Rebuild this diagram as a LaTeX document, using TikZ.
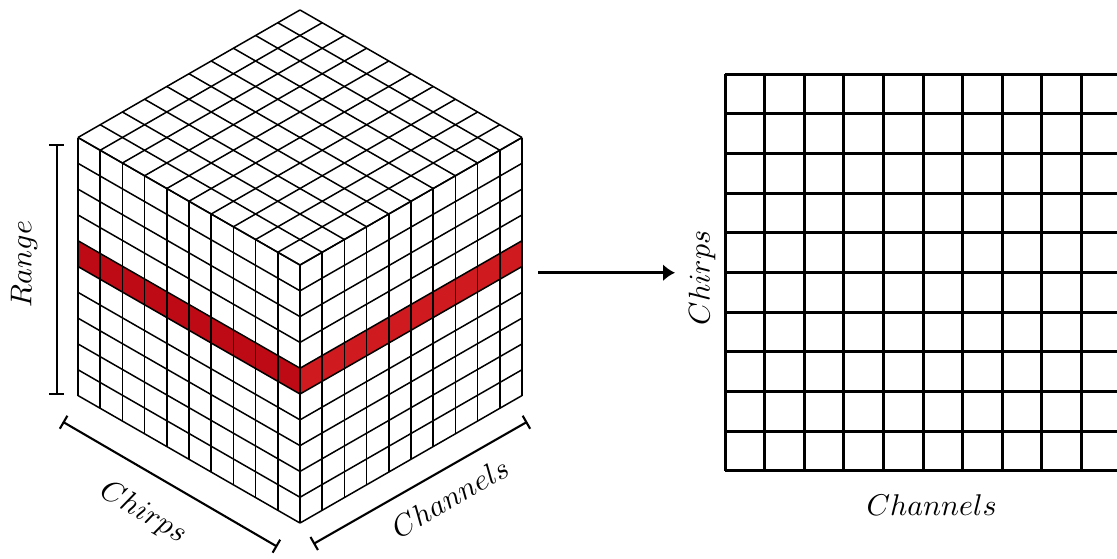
\documentclass[tikz,border=0pt]{standalone}
\usepackage{tikz}
\usetikzlibrary{arrows.meta}
\definecolor{redleft}{HTML}{BE0A14}
\definecolor{redright}{HTML}{CF1A1F}

\begin{document}
\begin{tikzpicture}[x=0.3333pt,y=-0.3333pt,>=Latex,
  cubeline/.style={line width=0.5pt},
  gridline/.style={line width=1pt},
  bracket/.style={line width=0.7pt,{Bar[width=5pt]}-{Bar[width=5pt]}},
  axislabel/.style={inner sep=0pt}]
\fill[white] (0,0) rectangle (1117,558);
\useasboundingbox (0,0) rectangle (1117,558);
\begin{scope}[shift={(300,265)},x={(-7.4pt,4.25pt)},y={(7.4pt,4.25pt)},z={(0pt,-8.6pt)}]
\fill[redleft] (0,0,4)--(10,0,4)--(10,0,5)--(0,0,5)--cycle;
\fill[redright] (0,0,4)--(0,10,4)--(0,10,5)--(0,0,5)--cycle;
\foreach \i in {0,...,10}{
  \draw[cubeline] (\i,0,0)--(\i,10,0);
  \draw[cubeline] (0,\i,0)--(10,\i,0);
  \draw[cubeline] (\i,0,0)--(\i,0,10);
  \draw[cubeline] (0,0,\i)--(10,0,\i);
  \draw[cubeline] (0,\i,0)--(0,\i,10);
  \draw[cubeline] (0,0,\i)--(0,10,\i);
}
\end{scope}
\coordinate (rangetop) at (56.7,144.3);
\coordinate (rangebot) at (56.7,395);
\coordinate (chirpsstart) at (62.7,421.7);
\coordinate (chirpsend) at (277.3,546.7);
\coordinate (chanstart) at (313.3,544);
\coordinate (chanend) at (527.3,421.7);
\draw[bracket] (rangetop)--(rangebot);
\draw[bracket] (chirpsstart)--(chirpsend);
\draw[bracket] (chanstart)--(chanend);
\node[axislabel,rotate=90] (rangelabel) at (24,264) {$Range$};
\node[axislabel,rotate=-30] (chirpslabel) at (143,513) {$Chirps$};
\node[axislabel,rotate=30] (channelslabel) at (450,497.5) {$Channels$};
\coordinate (arrowstart) at (538,272.7);
\coordinate (arrowend) at (675,272.7);
\draw[-{Latex[length=4pt,width=5.7pt]},line width=1pt] (arrowstart)--(arrowend);
\foreach \c in {0,...,10}
  \draw[gridline] ({725+39.6*\c},74.3)--({725+39.6*\c},470.7);
\foreach \r in {0,...,10}
  \draw[gridline] (725,{74.3+39.64*\r})--(1121,{74.3+39.64*\r});
\node[axislabel,rotate=90] (mapchirps) at (702,278) {$Chirps$};
\node[axislabel] (mapchannels) at (931.7,505) {$Channels$};
\end{tikzpicture}
\end{document}
